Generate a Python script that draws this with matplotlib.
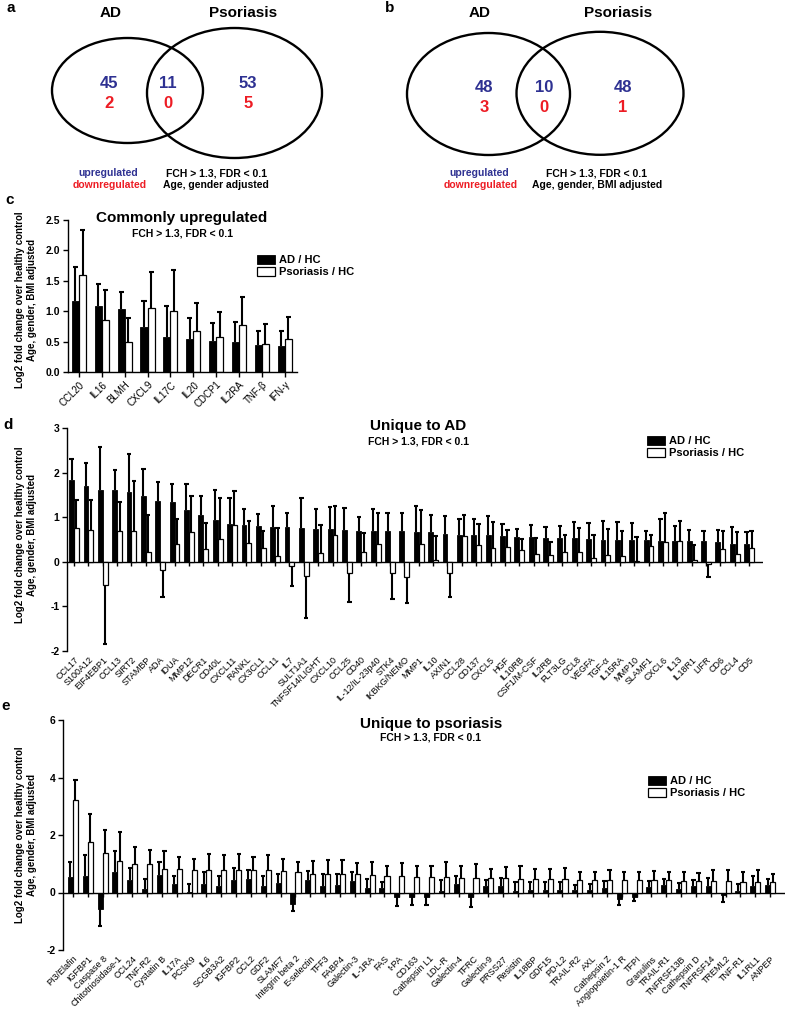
import numpy as np
import matplotlib
matplotlib.use("Agg")
import matplotlib.pyplot as plt
from matplotlib.patches import Ellipse

plt.rcParams['font.family'] = ['Liberation Sans', 'DejaVu Sans']

# ---------------- data ----------------
venn_a_up = [45, 11, 53]
venn_a_down = [2, 0, 5]
venn_b_up = [48, 10, 48]
venn_b_down = [3, 0, 1]

# panel c : commonly upregulated (bar value, end of error bar)
c_labels = ["CCL20", "IL16", "BLMH", "CXCL9", "IL17C", "IL20", "CDCP1", "IL2RA", "TNF-β", "IFN-γ"]
c_ad = [1.17, 1.09, 1.04, 0.74, 0.58, 0.55, 0.51, 0.50, 0.45, 0.42]
c_ad_lim = [1.72, 1.45, 1.32, 1.16, 1.08, 0.88, 0.80, 0.83, 0.68, 0.67]
c_ps = [1.59, 0.85, 0.50, 1.06, 1.00, 0.68, 0.58, 0.77, 0.46, 0.55]
c_ps_lim = [2.33, 1.35, 0.89, 1.64, 1.68, 1.14, 0.98, 1.23, 0.79, 0.90]

# panel d : unique to AD
d_labels = ["CCL17", "S100A12", "EIF4EBP1", "CCL13", "SIRT2", "STAMBP", "ADA", "IDUA", "MMP12",
            "DECR1", "CD40L", "CXCL11", "RANKL", "CX3CL1", "CCL11", "IL7", "SULT1A1",
            "TNFSF14/LIGHT", "CXCL10", "CCL25", "CD40", "IL-12/IL-23p40", "STK4", "IKBKG/NEMO",
            "MMP1", "IL10", "AXIN1", "CCL28", "CD137", "CXCL5", "HGF", "IL10RB", "CSF1/M-CSF",
            "IL2RB", "FLT3LG", "CCL8", "VEGFA", "TGF-α", "IL15RA", "MMP10", "SLAMF1", "CXCL6",
            "IL13", "IL18R1", "LIFR", "CD6", "CCL4", "CD5"]
d_ad = [1.84, 1.71, 1.61, 1.60, 1.57, 1.48, 1.36, 1.33, 1.16, 1.05, 0.94, 0.85, 0.83, 0.81,
        0.78, 0.78, 0.75, 0.74, 0.73, 0.71, 0.70, 0.69, 0.68, 0.68, 0.67, 0.66, 0.62, 0.61,
        0.61, 0.60, 0.58, 0.56, 0.56, 0.54, 0.54, 0.53, 0.51, 0.50, 0.50, 0.49, 0.49, 0.47,
        0.47, 0.47, 0.47, 0.44, 0.41, 0.40]
d_ad_lim = [2.31, 2.21, 2.58, 2.06, 2.42, 2.08, 1.79, 1.74, 1.75, 1.48, 1.61, 1.43, 1.18, 1.07,
            1.24, 1.09, 1.44, 1.19, 1.22, 1.20, 1.00, 1.19, 1.10, 1.10, 1.25, 1.05, 1.03, 0.95,
            0.95, 1.02, 0.85, 0.74, 0.83, 0.77, 0.81, 0.90, 0.88, 0.92, 0.90, 0.88, 0.68, 0.95,
            0.80, 0.71, 0.68, 0.72, 0.78, 0.67]
d_ps = [0.75, 0.71, -0.51, 0.70, 0.68, 0.23, -0.18, 0.41, 0.67, 0.28, 0.52, 0.82, 0.43, 0.30,
        0.12, -0.10, -0.32, 0.20, 0.59, -0.25, 0.23, 0.41, -0.25, -0.35, 0.39, 0.05, -0.25, 0.58,
        0.38, 0.31, 0.33, 0.26, 0.17, 0.15, 0.21, 0.22, 0.09, 0.16, 0.14, 0.02, 0.35, 0.44,
        0.47, 0.05, -0.05, 0.28, 0.17, 0.30]
d_ps_lim = [1.39, 1.39, -1.84, 1.34, 1.82, 1.04, -0.79, 0.97, 1.48, 0.88, 1.43, 1.59, 0.92, 0.68,
            0.76, -0.55, -1.25, 0.83, 1.25, -0.90, 0.64, 1.09, -0.83, -0.92, 1.17, 0.58, -0.79, 1.06,
            0.85, 0.89, 0.72, 0.52, 0.54, 0.45, 0.59, 0.75, 0.59, 0.73, 0.70, 0.56, 0.60, 1.09,
            0.92, 0.38, -0.35, 0.68, 0.67, 0.68]

# panel e : unique to psoriasis
e_labels = ["PI3/Elafin", "IGFBP1", "Caspase 8", "Chitotriosidase-1", "CCL24", "TNF-R2",
            "Cystatin B", "IL17A", "PCSK9", "IL6", "SCGB3A2", "IGFBP2", "CCL2", "GDF2", "SLAMF7",
            "Integrin beta 2", "E-selectin", "TFF3", "FABP4", "Galectin-3", "IL-1RA", "FAS", "t-PA",
            "CD163", "Cathepsin L1", "LDL-R", "Galectin-4", "TFRC", "Galectin-9", "PRSS27",
            "Resistin", "IL18BP", "GDF15", "PD-L2", "TRAIL-R2", "AXL", "Cathepsin Z",
            "Angiopoietin-1 R", "TFPI", "Granulins", "TRAIL-R1", "TNFRSF13B", "Cathepsin D",
            "TNFRSF14", "TREML2", "TNF-R1", "IL1RL1", "ANPEP"]
e_ad = [0.53, 0.58, -0.58, 0.73, 0.42, 0.12, 0.60, 0.28, 0.03, 0.31, 0.21, 0.44, 0.46, 0.21,
        0.32, -0.41, 0.44, 0.24, 0.27, 0.39, 0.14, 0.14, -0.14, -0.16, -0.14, 0.06, 0.29, -0.16,
        0.23, 0.23, 0.06, 0.09, 0.07, 0.09, 0.08, 0.09, 0.17, -0.22, -0.14, 0.19, 0.27, 0.12,
        0.23, 0.24, -0.08, 0.06, 0.23, 0.26]
e_ad_lim = [1.06, 1.31, -1.18, 1.46, 0.85, 0.48, 1.06, 0.56, 0.28, 0.70, 0.58, 0.85, 0.79, 0.58,
            0.65, -0.66, 0.75, 0.63, 0.65, 0.70, 0.48, 0.37, -0.46, -0.44, -0.42, 0.42, 0.57, -0.49,
            0.44, 0.50, 0.35, 0.35, 0.38, 0.36, 0.27, 0.31, 0.41, -0.43, -0.30, 0.41, 0.48, 0.32,
            0.44, 0.52, -0.34, 0.29, 0.56, 0.46]
e_ps = [3.22, 1.75, 1.37, 1.09, 0.99, 0.99, 0.83, 0.83, 0.79, 0.79, 0.79, 0.79, 0.79, 0.79,
        0.75, 0.72, 0.66, 0.64, 0.64, 0.64, 0.61, 0.59, 0.56, 0.53, 0.53, 0.53, 0.52, 0.52,
        0.52, 0.50, 0.48, 0.48, 0.46, 0.48, 0.44, 0.44, 0.44, 0.42, 0.42, 0.42, 0.42, 0.41,
        0.41, 0.41, 0.41, 0.38, 0.38, 0.36]
e_ps_lim = [3.92, 2.74, 2.16, 2.10, 1.60, 1.49, 1.46, 1.23, 1.16, 1.33, 1.31, 1.34, 1.23, 1.31,
            1.18, 1.06, 1.08, 1.14, 1.12, 1.03, 1.06, 0.92, 1.02, 0.93, 0.93, 1.06, 0.93, 1.00,
            0.83, 0.88, 0.93, 0.81, 0.82, 0.85, 0.72, 0.72, 0.77, 0.72, 0.71, 0.74, 0.72, 0.72,
            0.68, 0.79, 0.77, 0.72, 0.78, 0.66]

series_names = ["AD / HC", "Psoriasis / HC"]
ylab = "Log2 fold change over healthy control\nAge, gender, BMI adjusted"
BLUE = "#2e3192"
RED = "#ed1c24"

# ---------------- figure ----------------
W, H = 787, 1009
fig = plt.figure(figsize=(W / 100, H / 100), dpi=100)


def px_axes(x0, y0, x1, y1):
    return fig.add_axes([x0 / W, 1 - y1 / H, (x1 - x0) / W, (y1 - y0) / H])


def bar_panel(ax, labels, ad, ad_lim, ps, ps_lim, bw, cap, xlim, ylim, yticks, yfmt, xfs,
              zero_line, leg_xy):
    x = np.arange(len(labels))
    ad = np.asarray(ad); ps = np.asarray(ps)
    ad_lim = np.asarray(ad_lim); ps_lim = np.asarray(ps_lim)
    b1 = ax.bar(x - bw / 2, ad, bw, color="black", edgecolor="black", linewidth=0.6, zorder=2)
    b2 = ax.bar(x + bw / 2, ps, bw, color="white", edgecolor="black", linewidth=0.9, zorder=2)
    for xs, v, lim in ((x - bw / 2, ad, ad_lim), (x + bw / 2, ps, ps_lim)):
        ax.vlines(xs, v, lim, color="black", linewidth=1.5, zorder=3)
        ax.hlines(lim, xs - cap, xs + cap, color="black", linewidth=1.5, zorder=3)
    ax.set_xlim(*xlim)
    ax.set_ylim(*ylim)
    ax.set_yticks(yticks)
    ax.set_yticklabels([yfmt.format(t) for t in yticks], fontweight="bold", fontsize=7.5)
    ax.set_xticks(x)
    ax.set_xticklabels(labels, rotation=45, ha="right", rotation_mode="anchor", fontsize=xfs)
    for s in ("top", "right"):
        ax.spines[s].set_visible(False)
    ax.spines["left"].set_linewidth(1.0)
    ax.tick_params(axis="y", length=3.5, width=1.0, pad=2)
    if zero_line:
        ax.spines["bottom"].set_visible(False)
        ax.axhline(0, color="black", linewidth=1.0, zorder=1.5)
        hpx = ax.get_position().height * H
        tl = 4.0 * (ylim[1] - ylim[0]) / hpx
        ax.vlines(x, -tl, 0, color="black", linewidth=1.0, zorder=1.5)
        ax.tick_params(axis="x", length=0, pad=3)
    else:
        ax.spines["bottom"].set_linewidth(1.0)
        ax.tick_params(axis="x", length=3.5, width=1.0, pad=2)
    ax.legend([b1, b2], series_names, loc="upper left",
              bbox_to_anchor=(leg_xy[0] / W, 1 - leg_xy[1] / H), bbox_transform=fig.transFigure,
              frameon=False, prop={"weight": "bold", "size": 8}, handlelength=1.6,
              handleheight=0.85, handletextpad=0.4, labelspacing=0.15, borderpad=0,
              borderaxespad=0)


# panel c
axc = px_axes(68, 220, 297, 372)
bar_panel(axc, c_labels, c_ad, c_ad_lim, c_ps, c_ps_lim, 0.31, 0.11, (-0.48, 9.54), (0, 2.5),
          [0, 0.5, 1.0, 1.5, 2.0, 2.5], "{:.1f}", 7, False, (257, 255))

# panel d
axd = px_axes(67, 428, 763, 651)
bar_panel(axd, d_labels, d_ad, d_ad_lim, d_ps, d_ps_lim, 0.34, 0.15, (-0.49, 47.97), (-2, 3),
          [-2, -1, 0, 1, 2, 3], "{:d}", 6.5, True, (647, 436))

# panel e
axe = px_axes(63, 720, 785, 950)
bar_panel(axe, e_labels, e_ad, e_ad_lim, e_ps, e_ps_lim, 0.34, 0.14, (-0.67, 48.0), (-2, 6),
          [-2, 0, 2, 4, 6], "{:d}", 6.5, True, (648, 776))

# ---------------- overlay (venn + texts) ----------------
ov = fig.add_axes([0, 0, 1, 1])
ov.set_xlim(0, W)
ov.set_ylim(H, 0)
ov.axis("off")
ov.patch.set_alpha(0)

# panel letters
for lt, (lx, ly) in zip("abcde", [(11, 8), (390, 8), (10, 200), (8, 425), (6, 706)]):
    ov.text(lx, ly, lt, fontsize=11, fontweight="bold", ha="center", va="center")

# Venn diagrams
venns = [
    dict(ell=[(127.5, 90.5, 151, 105), (234.5, 93, 175, 130)], ad=(111, 13), ps=(243, 13),
         nums_x=[109, 168, 248], up_y=83, dn_y=103, up=venn_a_up, dn=venn_a_down,
         leg_x=108, note_x=216, note="FCH > 1.3, FDR < 0.1\nAge, gender adjusted"),
    dict(ell=[(488.5, 94, 163, 122), (600, 93.3, 167, 123)], ad=(480, 13), ps=(618, 13),
         nums_x=[484, 544, 623], up_y=87, dn_y=107, up=venn_b_up, dn=venn_b_down,
         leg_x=479, note_x=597, note="FCH > 1.3, FDR < 0.1\nAge, gender, BMI adjusted"),
]
for v in venns:
    for (cx, cy, w, h) in v["ell"]:
        ov.add_patch(Ellipse((cx, cy), w, h, fill=False, edgecolor="black", linewidth=1.7))
    ov.text(*v["ad"], "AD", fontsize=11, fontweight="bold", ha="center", va="center")
    ov.text(*v["ps"], "Psoriasis", fontsize=11, fontweight="bold", ha="center", va="center")
    for nx, u, d in zip(v["nums_x"], v["up"], v["dn"]):
        ov.text(nx, v["up_y"], str(u), fontsize=12, fontweight="bold", color=BLUE,
                ha="center", va="center")
        ov.text(nx, v["dn_y"], str(d), fontsize=12, fontweight="bold", color=RED,
                ha="center", va="center")
    ov.text(v["leg_x"], 173, "upregulated", fontsize=7.5, fontweight="bold", color=BLUE,
            ha="center", va="center")
    ov.text(v["leg_x"] + 2, 185, "downregulated", fontsize=7.5, fontweight="bold", color=RED,
            ha="center", va="center")
    ov.text(v["note_x"], 179, v["note"], fontsize=7.5, fontweight="bold", ha="center",
            va="center", linespacing=1.25)

# titles
titles = [("Commonly upregulated", 182, 218, 233), ("Unique to AD", 418, 426, 441),
          ("Unique to psoriasis", 431, 724, 738)]
for t, tx, ty, sy in titles:
    ov.text(tx, ty, t, fontsize=11, fontweight="bold", ha="center", va="center")
    ov.text(tx, sy, "FCH > 1.3, FDR < 0.1", fontsize=7.5, fontweight="bold", ha="center",
            va="center")

# y-axis labels
for yc in (300, 535, 835):
    ov.text(26, yc, ylab, fontsize=7, fontweight="bold", rotation=90, ha="center",
            va="center", multialignment="center", linespacing=1.2)

fig.savefig("out.png", dpi=100)
